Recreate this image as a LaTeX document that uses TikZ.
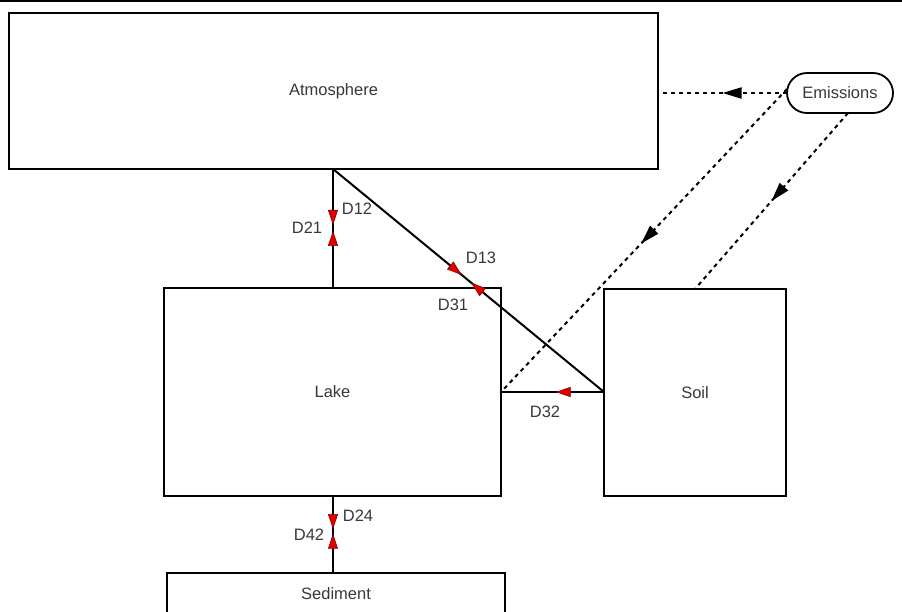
\documentclass[tikz,border=0pt]{standalone}
\usepackage{fontspec}
\setmainfont{Liberation Sans}
\usetikzlibrary{arrows.meta,decorations.markings}
\definecolor{txt}{HTML}{383838}
\definecolor{tipred}{HTML}{E00000}
\definecolor{tipedge}{HTML}{8A0000}
\tikzset{
  redtip/.tip={Triangle[length=15pt,width=10pt,fill=tipred,color=tipedge,line width=0.6pt]},
  blacktip/.tip={Triangle[length=19pt,width=11pt,fill=black,color=black]},
}
\begin{document}
\begin{tikzpicture}[x=1pt,y=-1pt,
  box/.style={draw=black,line width=1.8pt,inner sep=0pt,outer sep=0pt,text=txt,
    font=\fontsize{16.5}{19}\selectfont},
  lbl/.style={text=txt,inner sep=0pt,font=\fontsize{16.5}{19}\selectfont},
  flow/.style={line width=2pt,draw=black},
  emflow/.style={line width=2pt,draw=black,dash pattern=on 4pt off 4pt},
  midmark/.style 2 args={postaction={decorate},decoration={markings,
    mark=at position #1 with {\arrow{#2}}}},
]
\useasboundingbox (0,0) rectangle (902,611);
\clip (0,0) rectangle (902,611);
\draw[line width=2pt] (0,1) -- (902,1);

\node[box,minimum width=649pt,minimum height=156pt] (atm) at (333.5,91) {Atmosphere};
\node[box,minimum width=337pt,minimum height=208pt] (lake) at (332.5,392) {Lake};
\node[box,minimum width=182pt,minimum height=207pt] (soil) at (695,392.5) {Soil};
\node[box,minimum width=338pt,minimum height=42pt] (sed) at (336,594) {Sediment};
\node[box,rounded corners=20pt,minimum width=106pt,minimum height=40pt] (emis) at (840,93) {Emissions};

\coordinate (lakeN) at ([xshift=0.5pt]lake.north);
\coordinate (lakeS) at ([xshift=0.5pt]lake.south);
\coordinate (atmb) at (lakeN |- atm.south);
\coordinate (sedt) at (lakeS |- sed.north);
\coordinate (soilj) at ([yshift=0.5pt]soil.west);
\coordinate (lakej) at (lake.east |- soilj);
\coordinate (e2s) at ([yshift=4pt]emis.west);
\coordinate (e3s) at ([xshift=8pt]emis.south);

% Atmosphere <-> Lake
\draw[flow,postaction={decorate},decoration={markings,
  mark=at position 0.47 with {\arrow{redtip}},
  mark=at position 0.52 with {\arrowreversed{redtip}}}] (atmb) -- (lakeN);
% Atmosphere <-> Soil
\draw[flow,postaction={decorate},decoration={markings,
  mark=at position 0.475 with {\arrow{redtip}},
  mark=at position 0.51 with {\arrowreversed{redtip}}}] (atmb) -- (soilj);
% Soil -> Lake
\draw[flow,midmark={0.47}{redtip}] (soilj) -- (lakej);
% Lake <-> Sediment
\draw[flow,postaction={decorate},decoration={markings,
  mark=at position 0.43 with {\arrow{redtip}},
  mark=at position 0.49 with {\arrowreversed{redtip}}}] (lakeS) -- (sedt);

% Emissions
\draw[emflow,midmark={0.5}{blacktip}] (emis.west) -- (emis.west -| atm.east);
\draw[emflow,midmark={0.51}{blacktip}] (e2s) -- (lakej);
\draw[emflow,midmark={0.5}{blacktip}] (e3s) -- (soil.north);

\node[lbl] (l21) at (307,228) {D21};
\node[lbl] (l12) at (357,209) {D12};
\node[lbl] (l13) at (481,258) {D13};
\node[lbl] (l31) at (453,305) {D31};
\node[lbl] (l32) at (545,412) {D32};
\node[lbl] (l24) at (358,516) {D24};
\node[lbl] (l42) at (309,535) {D42};
\end{tikzpicture}
\end{document}
